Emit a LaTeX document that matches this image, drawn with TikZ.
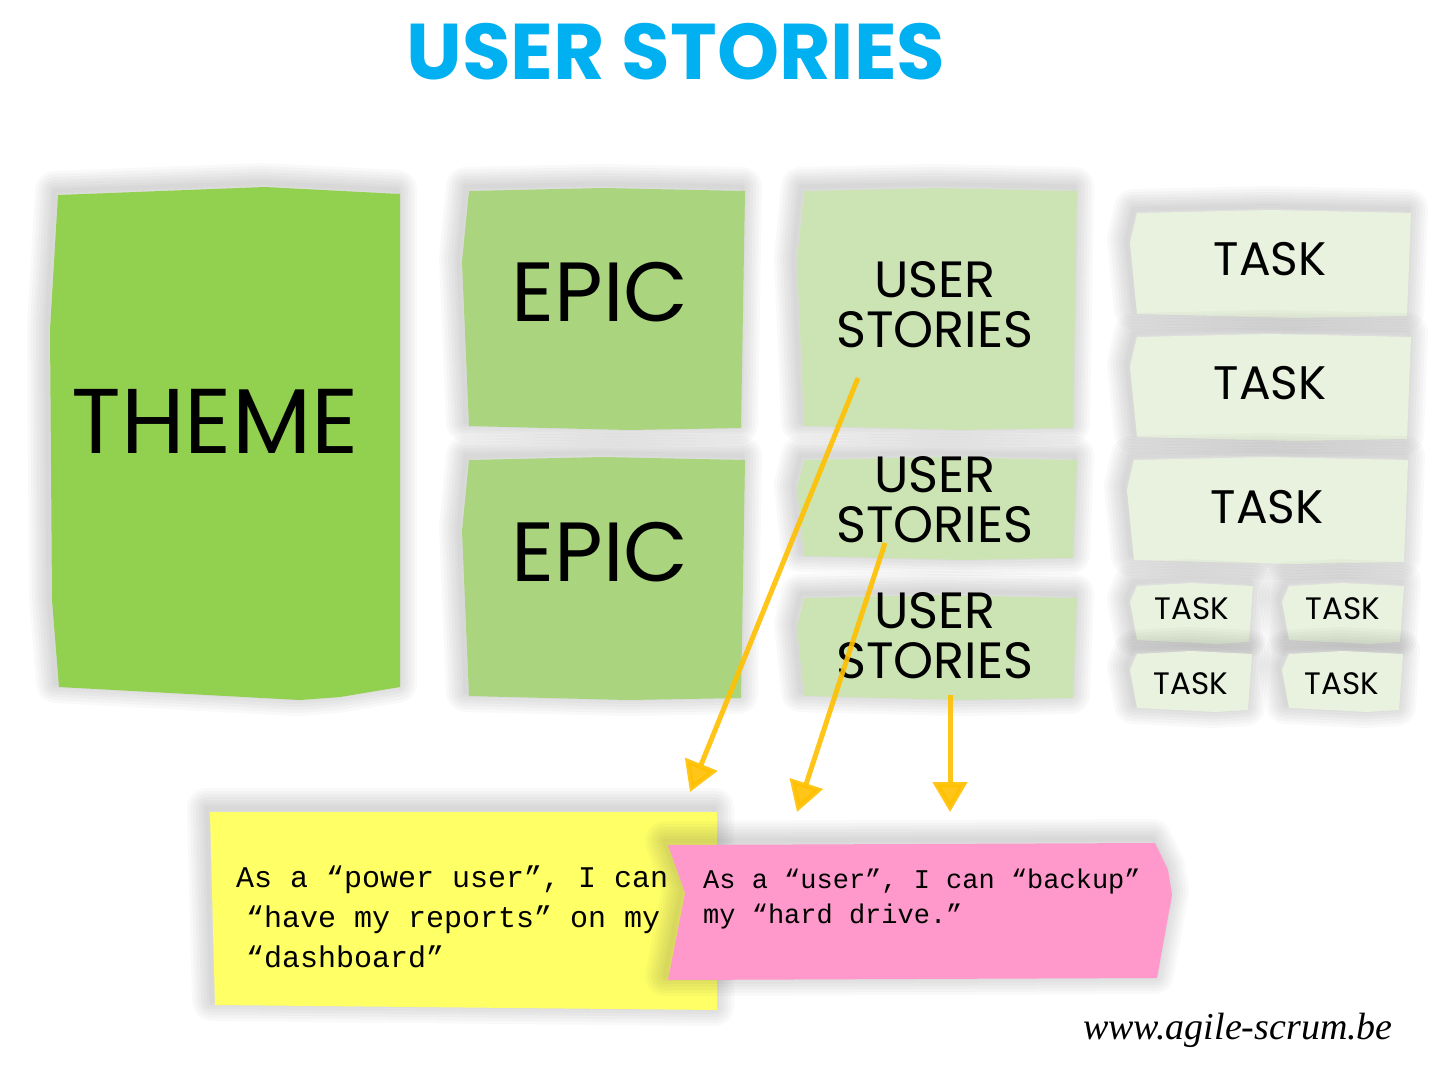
\documentclass[tikz,border=0pt]{standalone}
\usepackage{fontspec}
\setmainfont{Poppins}
\newfontfamily\notefont{Liberation Mono}
\newfontfamily\webfont{Liberation Serif}
\usetikzlibrary{arrows.meta,calc}
\definecolor{TitleClr}{HTML}{00B0F0}
\definecolor{ThemeClr}{HTML}{92D050}
\definecolor{EpicClr}{HTML}{AAD57E}
\definecolor{StoryClr}{HTML}{CCE4B3}
\definecolor{TaskClr}{HTML}{E8F2DE}
\definecolor{YellowClr}{HTML}{FFFF66}
\definecolor{PinkClr}{HTML}{FF99CC}
\definecolor{ArrowClr}{HTML}{FFC000}

\tikzset{
  softshade/.style={black!70,opacity=.032,line join=round,shift={(-3,-4)}},
  lbl/.style={inner sep=0pt,align=center,text=black},
  arr/.style={ArrowClr,opacity=.9,line width=5pt,-{Triangle[width=34pt,length=30pt]}}
}
\newcommand{\shadedfill}[2]{%
  \foreach \w in {40,34,28,22,16,10,5} {\draw[softshade,line width=\w pt] #2;}%
  \fill[#1] #2;}
\newcommand{\notecard}[5]{%
  \pgfmathsetmacro\cxm{(#2+#4)/2}%
  \pgfmathsetmacro\cyq{#3+0.3*(#5-#3)}%
  \shadedfill{#1}{(#2+7,#3+1) -- (\cxm,#3-2) -- (#4,#3+1) -- (#4-4,#5)
    -- (\cxm+25,#5+2) -- (#2+7,#5-2) -- (#2,\cyq) -- cycle}}

\begin{document}
\begin{tikzpicture}[x=1pt,y=-1pt]
\fill[white] (0,0) rectangle (1438,1069);
\useasboundingbox (0,0) rectangle (1438,1069);

\node[lbl,text=TitleClr,font=\bfseries\fontsize{79}{79}\selectfont] (title) at (676,52) {USER STORIES};

\shadedfill{ThemeClr}{(58,195) -- (265,187) -- (400,194) -- (400,687) -- (340,697)
  -- (300,700) -- (59,687) -- (52,600) -- (50,330) -- cycle}

\notecard{EpicClr}{462}{190}{745}{428}
\notecard{EpicClr}{462}{459}{745}{698}
\notecard{StoryClr}{797}{190}{1077}{428}
\notecard{StoryClr}{797}{459}{1077}{558}
\notecard{StoryClr}{797}{597}{1077}{698}
\notecard{TaskClr}{1130}{212}{1411}{316}
\notecard{TaskClr}{1130}{336}{1411}{439}
\notecard{TaskClr}{1127}{459}{1408}{562}
\notecard{TaskClr}{1130}{585}{1253}{642}
\notecard{TaskClr}{1282}{585}{1404}{642}
\notecard{TaskClr}{1130}{653}{1252}{710}
\notecard{TaskClr}{1282}{653}{1403}{710}

\node[lbl,font=\fontsize{92}{92}\selectfont] (theme) at (215,421) {THEME};
\node[lbl,font=\fontsize{84}{84}\selectfont] (epicA) at (600,292) {EPIC};
\node[lbl,font=\fontsize{84}{84}\selectfont] (epicB) at (600,552) {EPIC};
\node[lbl,font=\fontsize{51}{50}\selectfont] (storyA) at (935,305) {USER\\STORIES};
\node[lbl,font=\fontsize{51}{50}\selectfont] (storyB) at (935,500) {USER\\STORIES};
\node[lbl,font=\fontsize{51}{50}\selectfont] (storyC) at (935,636) {USER\\STORIES};
\node[lbl,font=\fontsize{47}{47}\selectfont] (taskA) at (1270,259) {TASK};
\node[lbl,font=\fontsize{47}{47}\selectfont] (taskB) at (1270,383) {TASK};
\node[lbl,font=\fontsize{47}{47}\selectfont] (taskC) at (1267,507) {TASK};
\node[lbl,font=\fontsize{31}{31}\selectfont] (taskD) at (1192,609) {TASK};
\node[lbl,font=\fontsize{31}{31}\selectfont] (taskE) at (1343,609) {TASK};
\node[lbl,font=\fontsize{31}{31}\selectfont] (taskF) at (1191,684) {TASK};
\node[lbl,font=\fontsize{31}{31}\selectfont] (taskG) at (1342,684) {TASK};

\shadedfill{YellowClr}{(210,812) -- (717,812) -- (717,1010) -- (215,1005) -- cycle}
\node[lbl,align=left,anchor=north west,font=\notefont\fontsize{30}{40}\selectfont] (noteA) at (236,866)
  {As a “power user”, I can\\\hspace*{10pt}“have my reports” on my\\\hspace*{10pt}“dashboard”};

\shadedfill{PinkClr}{(668,845) -- (1155,843) -- (1168,870) -- (1172,895) -- (1157,978)
  -- (668,980) -- (685,893) -- cycle}
\node[lbl,align=left,anchor=north west,font=\notefont\fontsize{27}{35}\selectfont] (noteB) at (703,869)
  {As a “user”, I can “backup”\\my “hard drive.”};

\coordinate (s1) at (858,378); \coordinate (e1) at (690,792);
\coordinate (s2) at (885,543); \coordinate (e2) at (797,812);
\coordinate (s3) at (950,695); \coordinate (e3) at (950,812);
\draw[arr] (s1) -- (e1);
\draw[arr] (s2) -- (e2);
\draw[arr] (s3) -- (e3);

\node[lbl,font=\webfont\itshape\fontsize{38}{38}\selectfont] (web) at (1238,1030) {www.agile-scrum.be};
\end{tikzpicture}
\end{document}
